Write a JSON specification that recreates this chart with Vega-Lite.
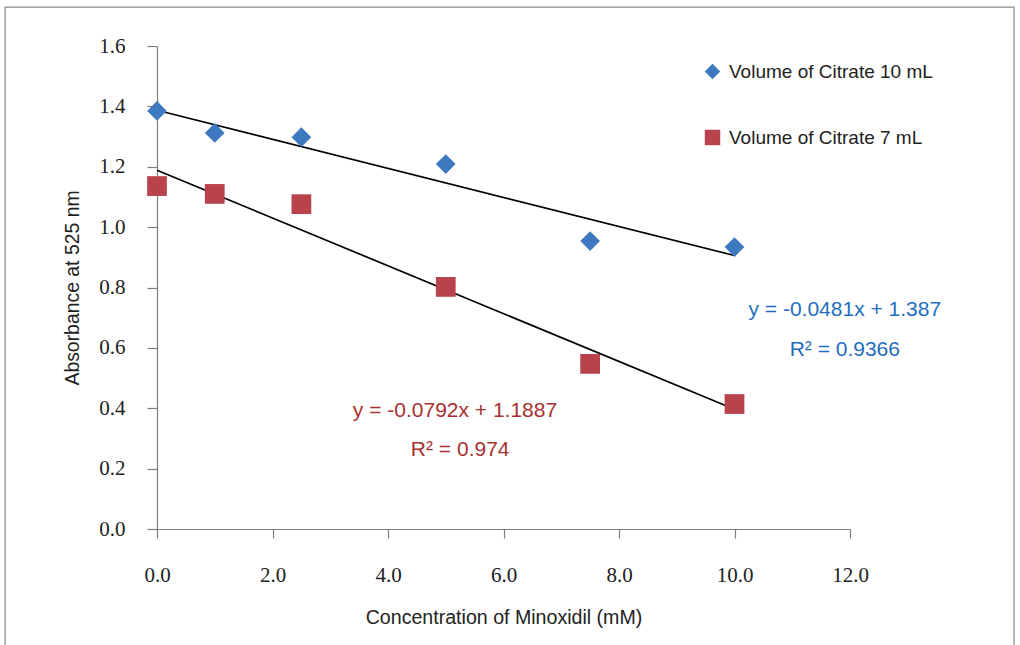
{
  "$schema": "https://vega.github.io/schema/vega-lite/v6.json",
  "width": 693,
  "height": 483,
  "autosize": "none",
  "padding": {"left": 157, "top": 46, "right": 170, "bottom": 116},
  "background": "#ffffff",
  "datasets": {
    "points": [
      {"series": "Volume of Citrate 10 mL", "conc": 0, "abs": 1.385},
      {"series": "Volume of Citrate 10 mL", "conc": 1, "abs": 1.312},
      {"series": "Volume of Citrate 10 mL", "conc": 2.5, "abs": 1.298},
      {"series": "Volume of Citrate 10 mL", "conc": 5, "abs": 1.209},
      {"series": "Volume of Citrate 10 mL", "conc": 7.5, "abs": 0.954},
      {"series": "Volume of Citrate 10 mL", "conc": 10, "abs": 0.934},
      {"series": "Volume of Citrate 7 mL", "conc": 0, "abs": 1.136},
      {"series": "Volume of Citrate 7 mL", "conc": 1, "abs": 1.110},
      {"series": "Volume of Citrate 7 mL", "conc": 2.5, "abs": 1.076},
      {"series": "Volume of Citrate 7 mL", "conc": 5, "abs": 0.802},
      {"series": "Volume of Citrate 7 mL", "conc": 7.5, "abs": 0.547},
      {"series": "Volume of Citrate 7 mL", "conc": 10, "abs": 0.414}
    ],
    "trend": [
      {"series": "Volume of Citrate 10 mL", "conc": 0, "abs": 1.387},
      {"series": "Volume of Citrate 10 mL", "conc": 10, "abs": 0.906},
      {"series": "Volume of Citrate 7 mL", "conc": 0, "abs": 1.1887},
      {"series": "Volume of Citrate 7 mL", "conc": 10, "abs": 0.3967}
    ],
    "equations": [
      {"series": "Volume of Citrate 10 mL", "label": "y = -0.0481x + 1.387", "conc": 11.91, "abs": 0.725},
      {"series": "Volume of Citrate 10 mL", "label": "R² = 0.9366", "conc": 11.91, "abs": 0.593},
      {"series": "Volume of Citrate 7 mL", "label": "y = -0.0792x + 1.1887", "conc": 5.16, "abs": 0.391},
      {"series": "Volume of Citrate 7 mL", "label": "R² = 0.974", "conc": 5.25, "abs": 0.262}
    ]
  },
  "layer": [
    {
      "data": {"values": [{}]},
      "mark": {"type": "rect", "fill": null, "stroke": "#8a8a8a", "strokeWidth": 1.2, "clip": false},
      "encoding": {
        "x": {"datum": -2.63, "type": "quantitative", "scale": {"domain": [0, 12], "nice": false, "zero": false}},
        "x2": {"datum": 14.84},
        "y": {"datum": 1.729, "type": "quantitative", "scale": {"domain": [0, 1.6], "nice": false, "zero": false}},
        "y2": {"datum": -0.42}
      }
    },
    {
      "data": {"name": "trend"},
      "mark": {"type": "line", "color": "#000000", "strokeWidth": 1.7},
      "encoding": {
        "x": {"field": "conc", "type": "quantitative"},
        "y": {"field": "abs", "type": "quantitative"},
        "detail": {"field": "series"}
      }
    },
    {
      "data": {"name": "points"},
      "mark": {"type": "point", "filled": true, "opacity": 1, "size": 390},
      "encoding": {
        "x": {
          "field": "conc",
          "type": "quantitative",
          "scale": {"domain": [0, 12], "nice": false, "zero": false},
          "axis": {
            "title": "Concentration of Minoxidil (mM)",
            "values": [0, 2, 4, 6, 8, 10, 12],
            "format": ".1f",
            "grid": false,
            "labelFlush": false,
            "labelOverlap": false,
            "domainColor": "#7f7f7f",
            "tickColor": "#7f7f7f",
            "tickSize": 9,
            "labelFont": "Liberation Serif",
            "labelFontSize": 21,
            "labelColor": "#222222",
            "labelPadding": 26,
            "titleFont": "Liberation Sans",
            "titleFontSize": 19.6,
            "titleFontWeight": "normal",
            "titleColor": "#222222",
            "titlePadding": 23
          }
        },
        "y": {
          "field": "abs",
          "type": "quantitative",
          "scale": {"domain": [0, 1.6], "nice": false, "zero": false},
          "axis": {
            "title": "Absorbance at 525 nm",
            "values": [0, 0.2, 0.4, 0.6, 0.8, 1.0, 1.2, 1.4, 1.6],
            "format": ".1f",
            "grid": false,
            "labelFlush": false,
            "labelOverlap": false,
            "domainColor": "#7f7f7f",
            "tickColor": "#7f7f7f",
            "tickSize": 10,
            "labelFont": "Liberation Serif",
            "labelFontSize": 21,
            "labelColor": "#222222",
            "labelPadding": 22,
            "titleFont": "Liberation Sans",
            "titleFontSize": 19.4,
            "titleFontWeight": "normal",
            "titleColor": "#222222",
            "titlePadding": 16
          }
        },
        "color": {
          "field": "series",
          "type": "nominal",
          "scale": {"domain": ["Volume of Citrate 10 mL", "Volume of Citrate 7 mL"], "range": ["#3e79c0", "#b9434c"]},
          "legend": {
            "title": null,
            "orient": "none",
            "legendX": 546,
            "legendY": 16,
            "padding": 0,
            "rowPadding": 46,
            "symbolSize": 240,
            "labelFont": "Liberation Sans",
            "labelFontSize": 19,
            "labelColor": "#222222",
            "labelOffset": 7,
            "labelLimit": 500
          }
        },
        "shape": {
          "field": "series",
          "type": "nominal",
          "scale": {"domain": ["Volume of Citrate 10 mL", "Volume of Citrate 7 mL"], "range": ["diamond", "square"]},
          "legend": {
            "title": null,
            "orient": "none",
            "legendX": 546,
            "legendY": 16,
            "padding": 0,
            "rowPadding": 46,
            "symbolSize": 240,
            "labelFont": "Liberation Sans",
            "labelFontSize": 19,
            "labelColor": "#222222",
            "labelOffset": 7,
            "labelLimit": 500
          }
        }
      }
    },
    {
      "data": {"name": "equations"},
      "transform": [{"filter": "datum.series == 'Volume of Citrate 10 mL'"}],
      "mark": {"type": "text", "color": "#1f6ebf", "font": "Liberation Sans", "fontSize": 21, "align": "center", "baseline": "middle"},
      "encoding": {
        "x": {"field": "conc", "type": "quantitative"},
        "y": {"field": "abs", "type": "quantitative"},
        "text": {"field": "label"}
      }
    },
    {
      "data": {"name": "equations"},
      "transform": [{"filter": "datum.series == 'Volume of Citrate 7 mL'"}],
      "mark": {"type": "text", "color": "#a8302f", "font": "Liberation Sans", "fontSize": 21, "align": "center", "baseline": "middle"},
      "encoding": {
        "x": {"field": "conc", "type": "quantitative"},
        "y": {"field": "abs", "type": "quantitative"},
        "text": {"field": "label"}
      }
    }
  ],
  "config": {
    "view": {"stroke": null},
    "axis": {"domainWidth": 1.2, "tickWidth": 1.2}
  }
}
